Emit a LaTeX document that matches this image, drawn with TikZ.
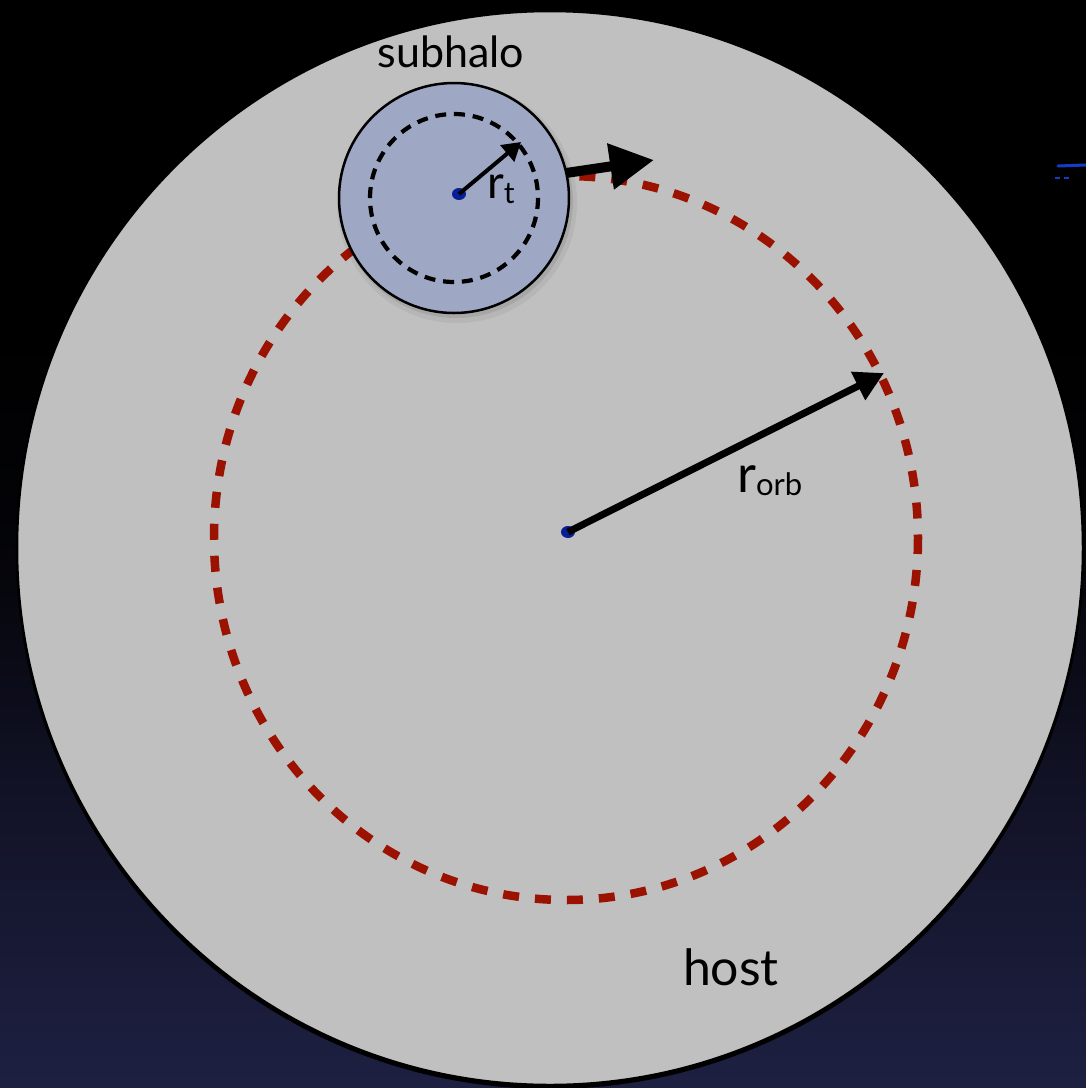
\documentclass[tikz,border=0pt]{standalone}
\usepackage{fontspec}
\setmainfont{Lato}
\usetikzlibrary{arrows.meta}
\definecolor{hostgray}{RGB}{192,192,192}
\definecolor{subfill}{RGB}{158,168,196}
\definecolor{orbitred}{RGB}{155,18,0}
\definecolor{dotblue}{RGB}{8,30,150}
\definecolor{skynavy}{RGB}{30,32,66}
\definecolor{smearblue}{RGB}{20,60,200}
% night sky: black above, deep navy towards the bottom
\pgfdeclareverticalshading{skyshade}{100bp}{%
  color(0bp)=(skynavy); color(25bp)=(skynavy);
  color(38bp)=(skynavy!60!black); color(50bp)=(skynavy!12!black);
  color(60bp)=(black); color(100bp)=(black)}
\begin{document}
\begin{tikzpicture}[x=1pt,y=-1pt, line join=round,
  hostdisk/.style={fill=hostgray, draw=black, line width=2.5pt},
  orbitpath/.style={draw=orbitred, line width=8.5pt, dash pattern=on 16pt off 16pt},
  subdisk/.style={fill=subfill, draw=black, line width=2.5pt},
  tidalpath/.style={draw=black, line width=4.2pt, dash pattern=on 11pt off 7.85pt},
  centredot/.style={fill=dotblue, draw=none},
  vecarrow/.style={draw=black, line cap=butt},
  lbl/.style={text=black, inner sep=0pt, anchor=base}
]
\useasboundingbox (0,0) rectangle (1086,1088);
\shade[shading=skyshade] (0,0) rectangle (1086,1088);

% key points
\coordinate (hostdisc) at (550,548);
\coordinate (orbitc) at (566,538);
\coordinate (hostc) at (568,532);
\coordinate (subc) at (459,194);
\coordinate (subdisc) at (454,198);
\coordinate (rttip) at (521,142);
\coordinate (motstart) at (566,173);
\coordinate (mottip) at (654,160);
\coordinate (orbtip) at (884,373);

% host halo with its drop shadow
\fill[black] ([yshift=-3pt]hostdisc) ellipse [x radius=534, y radius=538];
\path[hostdisk] (hostdisc) ellipse [x radius=533, y radius=537];

% orbit of the subhalo
\path[orbitpath] (orbitc) ellipse [x radius=352, y radius=362];

% host centre and orbital radius
\fill[centredot] (hostc) ellipse [x radius=7, y radius=6];
\draw[vecarrow, line width=7pt, -{Triangle[length=29pt,width=30pt]}] (hostc) -- (orbtip);
\node[lbl, anchor=base west] (orblbl) at (737,492)
  {\fontsize{52}{52}\selectfont r\raisebox{-3pt}{\fontsize{31}{31}\selectfont orb}};

% subhalo with soft shadow
\fill[black, opacity=0.05] ([shift={(3,5)}]subdisc) circle [radius=120];
\fill[black, opacity=0.08] ([shift={(2,3)}]subdisc) circle [radius=117];
\path[subdisk] (subdisc) circle [radius=115];
\path[tidalpath] (subdisc) circle [radius=84];
\fill[centredot] (subc) ellipse [x radius=7, y radius=6];
\draw[vecarrow, line width=4pt, -{Triangle[length=18pt,width=21pt]}] (subc) -- (rttip);
\node[lbl, anchor=base west] (rtlbl) at (487,198)
  {\fontsize{46}{46}\selectfont r\raisebox{-5pt}{\fontsize{30}{30}\selectfont t}};

% direction of motion
\draw[vecarrow, line width=10pt, -{Triangle[length=44pt,width=44pt]}] (motstart) -- (mottip);

% labels
\node[lbl, font=\fontsize{43}{43}\selectfont] (sublbl) at (451,67) {subhalo};
\node[lbl, font=\fontsize{50}{50}\selectfont] (hostlbl) at (731,985) {host};

% small blue streak at the right edge
\draw[smearblue, line width=3pt, line cap=round] (1058,166) -- (1086,165);
\draw[smearblue, line width=1.5pt, dash pattern=on 5pt off 4pt] (1055,178) -- (1072,178);
\end{tikzpicture}
\end{document}
